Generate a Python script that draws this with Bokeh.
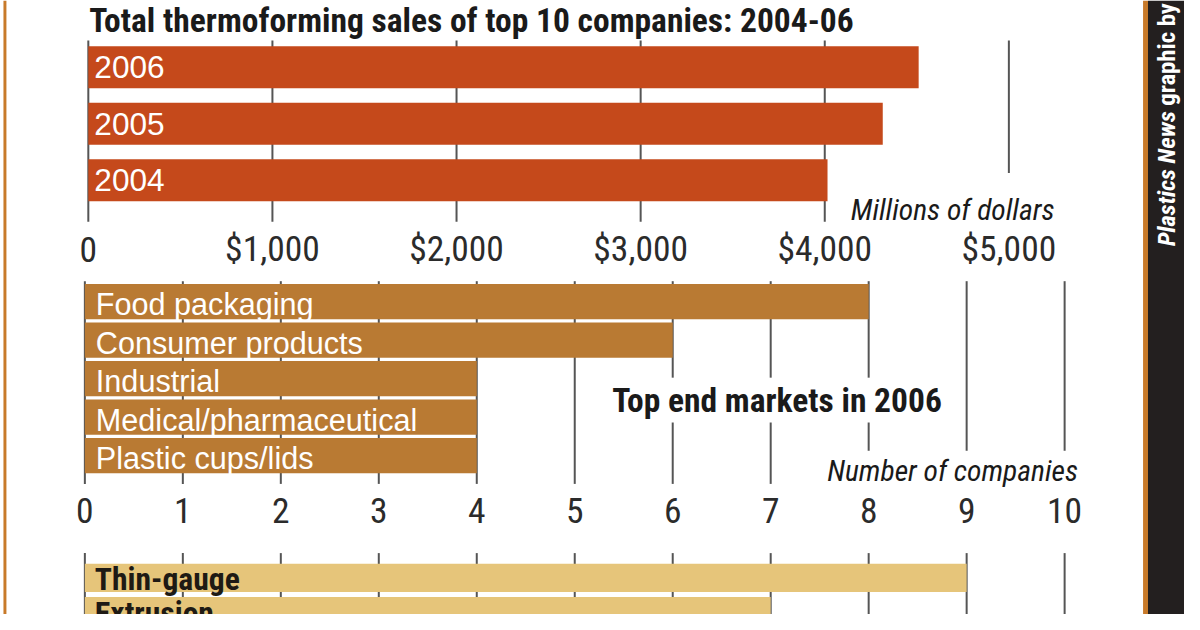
import math
from bokeh.plotting import figure
from bokeh.models import Range1d
from bokeh.core.properties import value
from bokeh.embed import file_html
from bokeh.resources import INLINE

# ---------------- data ----------------
years = ["2006", "2005", "2004"]
sales_musd = [4510, 4315, 4015]
usd_ticks = [0, 1000, 2000, 3000, 4000, 5000]
usd_tick_labels = ["0", "$1,000", "$2,000", "$3,000", "$4,000", "$5,000"]

markets = ["Food packaging", "Consumer products", "Industrial",
           "Medical/pharmaceutical", "Plastic cups/lids"]
market_companies = [8, 6, 4, 4, 4]

processes = ["Thin-gauge", "Extrusion"]
process_companies = [9, 7]

count_ticks = list(range(0, 11))
count_tick_labels = [str(t) for t in count_ticks]

title_sales = "Total thermoforming sales of top 10 companies: 2004-06"
title_markets = "Top end markets in 2006"
unit_sales = "Millions of dollars"
unit_count = "Number of companies"
credit_a = "Plastics News"
credit_b = "graphic by"

# ---------------- styling ----------------
NARROW = value("Liberation Sans Narrow, Noto Sans Condensed, Roboto Condensed, "
               "Open Sans Condensed, Liberation Sans, sans-serif")
REG = value("Liberation Sans, Arial, sans-serif")
C_SALES = "#c5491b"
C_MARKET = "#b97a33"
C_PROC = "#e6c57a"
C_GRID = "#555555"
C_TEXT = "#2b2b2b"
C_DARK = "#231f1f"
C_EDGE = "#c87a2a"

W, H = 1184, 614          # figure size in pixels
RW, RH = 1200, 630        # layout drawn in a 1200 x 630 page space
S = W / RW


def fs(px):
    return f"{px * S:.1f}px"


def base(y, px):
    # baseline correction for the renderer's alphabetic placement
    return y - 0.25 * px


p = figure(width=W, height=H, x_range=Range1d(0, RW), y_range=Range1d(RH, 0),
           output_backend="svg", toolbar_location=None,
           x_axis_location=None, y_axis_location=None, min_border=0)
p.grid.visible = False
p.outline_line_color = None
p.background_fill_color = "white"
p.border_fill_color = "white"

# value scales placed on the page
USD_X0, USD_PX = 89.0, 0.1866
CNT_X0, CNT_PX = 85.5, 99.3
p.extra_x_ranges = {
    "usd": Range1d((0 - USD_X0) / USD_PX, (RW - USD_X0) / USD_PX),
    "cnt": Range1d((0 - CNT_X0) / CNT_PX, (RW - CNT_X0) / CNT_PX),
}

# ---------------- panel 1: sales ----------------
bar1_h, bar1_top, bar1_pitch = 43, 47, 58
bar1_y = [bar1_top + bar1_h / 2 + i * bar1_pitch for i in range(len(years))]
g_top = [41] * len(usd_ticks)
g_bot = [227 if t <= max(sales_musd) else 177 for t in usd_ticks]
p.segment(x0=usd_ticks, x1=usd_ticks, y0=g_top, y1=g_bot, x_range_name="usd",
          line_color=C_GRID, line_width=2)
p.hbar(y=bar1_y, left=0, right=sales_musd, height=bar1_h, x_range_name="usd",
       fill_color=C_SALES, line_color=None)
p.text(x=[0] * len(years), y=[base(y + 8, 32) for y in bar1_y], text=years, x_range_name="usd",
       x_offset=6, text_font=REG, text_font_size=fs(32), text_color="white",
       text_baseline="alphabetic", text_align="left")
p.text(x=usd_ticks, y=[base(264, 36)] * len(usd_ticks), text=usd_tick_labels, x_range_name="usd",
       text_font=NARROW, text_font_size=fs(36), text_color=C_TEXT,
       text_baseline="alphabetic", text_align="center")
p.text(x=[90], y=[base(29, 34)], text=[title_sales], text_font=NARROW, text_font_size=fs(34),
       text_font_style="bold", text_color="#1a1a1a", text_baseline="alphabetic")
p.text(x=[965], y=[base(222, 30)], text=[unit_sales], text_font=NARROW, text_font_size=fs(30),
       text_font_style="italic", text_color="#1a1a1a", text_baseline="alphabetic",
       text_align="center")

# ---------------- panel 2: end markets ----------------
bar2_h, bar2_top, bar2_pitch = 36, 291, 39.5
bar2_y = [bar2_top + bar2_h / 2 + i * bar2_pitch for i in range(len(markets))]
x0s, y0s, y1s = [], [], []
for t in count_ticks:
    bottom = 462 if t >= 8 else 496
    if t in (6, 7, 8):
        x0s += [t, t]; y0s += [288, 433]; y1s += [387, bottom]
    else:
        x0s += [t]; y0s += [288]; y1s += [bottom]
p.segment(x0=x0s, x1=x0s, y0=y0s, y1=y1s, x_range_name="cnt",
          line_color=C_GRID, line_width=2)
p.hbar(y=bar2_y, left=0, right=market_companies, height=bar2_h, x_range_name="cnt",
       fill_color=C_MARKET, line_color=None)
p.text(x=[0] * len(markets), y=[base(y + 10.5, 31) for y in bar2_y], text=markets,
       x_range_name="cnt", x_offset=11, text_font=REG, text_font_size=fs(31),
       text_color="white", text_baseline="alphabetic", text_align="left")
p.text(x=count_ticks, y=[base(532, 36)] * len(count_ticks), text=count_tick_labels,
       x_range_name="cnt", text_font=NARROW, text_font_size=fs(36), text_color=C_TEXT,
       text_baseline="alphabetic", text_align="center")
p.text(x=[787], y=[base(419, 34)], text=[title_markets], text_font=NARROW, text_font_size=fs(34),
       text_font_style="bold", text_color="#1a1a1a", text_baseline="alphabetic",
       text_align="center")
p.text(x=[965], y=[base(490, 30)], text=[unit_count], text_font=NARROW, text_font_size=fs(30),
       text_font_style="italic", text_color="#1a1a1a", text_baseline="alphabetic",
       text_align="center")

# ---------------- panel 3: processes ----------------
bar3_h, bar3_top, bar3_pitch = 29, 578, 34
bar3_y = [bar3_top + bar3_h / 2 + i * bar3_pitch for i in range(len(processes))]
p.segment(x0=count_ticks, x1=count_ticks, y0=[567] * len(count_ticks),
          y1=[650] * len(count_ticks), x_range_name="cnt", line_color=C_GRID, line_width=2)
p.hbar(y=bar3_y, left=0, right=process_companies, height=bar3_h, x_range_name="cnt",
       fill_color=C_PROC, line_color=None)
p.text(x=[0] * len(processes), y=[base(y + 10, 32) for y in bar3_y], text=processes,
       x_range_name="cnt", x_offset=10, text_font=NARROW, text_font_size=fs(32),
       text_font_style="bold", text_color="#1e1a14", text_baseline="alphabetic",
       text_align="left")

# ---------------- frame decorations ----------------
p.quad(left=[3], right=[6], top=[0], bottom=[RH], fill_color=C_EDGE, line_color=None)
p.quad(left=[1158], right=[1163], top=[0], bottom=[RH], fill_color=C_EDGE, line_color=None)
p.quad(left=[1163], right=[RW], top=[0], bottom=[RH], fill_color=C_DARK, line_color=None)
p.text(x=[1182], y=[252], text=[credit_a], angle=math.pi / 2, text_font=NARROW,
       text_font_size=fs(25), text_font_style="bold italic", text_color="white",
       text_baseline="middle", text_align="left")
p.text(x=[1182], y=[108], text=[credit_b], angle=math.pi / 2, text_font=NARROW,
       text_font_size=fs(25), text_font_style="bold", text_color="white",
       text_baseline="middle", text_align="left")

open("out.html", "w").write(file_html(p, INLINE))
